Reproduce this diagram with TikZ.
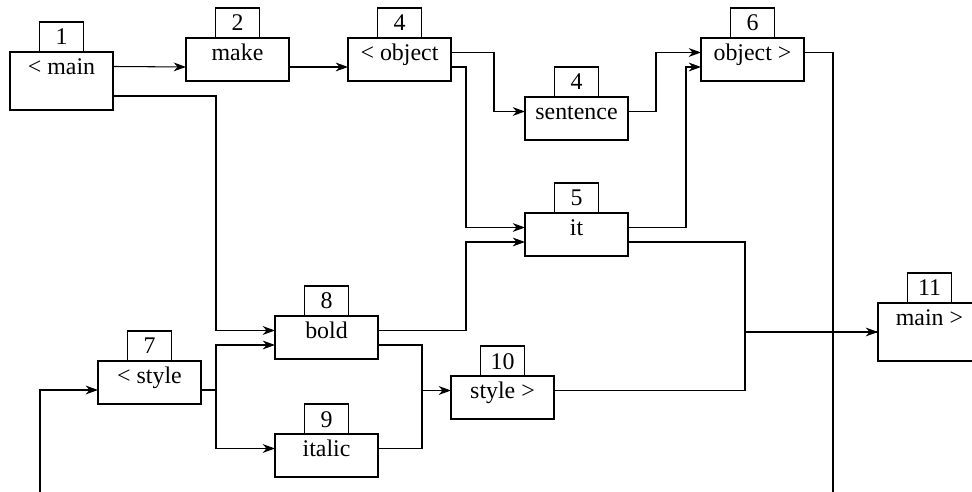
\documentclass[tikz,border=0pt]{standalone}
\usepackage{fontspec}
\setmainfont{Liberation Serif}[Ligatures=TeX]
\usepackage{tikz}
\usetikzlibrary{arrows.meta, positioning}

\begin{document}
\begin{tikzpicture}[
          x=0.02cm, y=-0.02cm,
          line width=0.6pt,
          >={Stealth[length=7pt, width=5pt, inset=2.2pt]},
          every node/.style={draw, rectangle, outer sep=0pt, inner ysep=0pt,
            font=\fontsize{13.6}{16}\selectfont},
          blk/.style={anchor=north west, minimum width=2.06cm,
            text height=0.46cm, text depth=0.40cm, line width=0.7pt},
          tallblk/.style={blk, text depth=0.70cm},
          tag/.style={minimum width=0.88cm, text height=0.46cm,
            text depth=0.14cm, line width=0.7pt},
          pa/.style={yshift=-0.29cm},
          pb/.style={yshift=-0.58cm},
          pc/.style={yshift=-0.88cm}
        ]
          \useasboundingbox (0,0) rectangle (972,492);

          \node[tallblk] (m1) at (10,52) {< main};
          \node[blk] (mk) at (186,38) {make};
          \node[blk] (ob) at (348,38) {< object};
          \node[blk] (se) at (525,97) {sentence};
          \node[blk] (oe) at (701,38) {object >};
          \node[blk] (it) at (525,213) {it};
          \node[blk] (bo) at (275,316) {bold};
          \node[blk] (st) at (98,361) {< style};
          \node[blk] (itl) at (275,434) {italic};
          \node[blk] (sx) at (451,376) {style >};
          \node[tallblk] (me) at (878,303) {main >};

          \node[tag, above=0pt of m1] (t1) {1};
          \node[tag, above=0pt of mk] (t2) {2};
          \node[tag, above=0pt of ob] (t4a) {4};
          \node[tag, above=0pt of se] (t4b) {4};
          \node[tag, above=0pt of oe] (t6) {6};
          \node[tag, above=0pt of it] (t5) {5};
          \node[tag, above=0pt of bo] (t8) {8};
          \node[tag, above=0pt of st] (t7) {7};
          \node[tag, above=0pt of itl] (t9) {9};
          \node[tag, above=0pt of sx] (t10) {10};
          \node[tag, above=0pt of me] (t11) {11};

          \coordinate (inl) at (40,492);
          \coordinate (outr) at (833,492);

          \draw[->] ([pa]m1.north east) -- ([pb]mk.north west);
          \draw[->] ([pc]m1.north east) -- ++(103,0) |- ([pa]bo.north west);
          \draw[->] ([pb]mk.north east) -- ([pb]ob.north west);
          \draw[->] ([pa]ob.north east) -- ++(43,0) |- ([pa]se.north west);
          \draw[->] ([pb]ob.north east) -- ++(15,0) |- ([pa]it.north west);
          \draw[->] ([pa]se.north east) -- ++(28,0) |- ([pa]oe.north west);
          \draw[->] ([pa]it.north east) -- ++(58,0) |- ([pb]oe.north west);
          \draw[->] ([pa]bo.north east) -- ++(88,0) |- ([pb]it.north west);
          \draw[->] ([pb]it.north east) -- ++(117,0) |- ([pb]me.north west);
          \draw ([pa]sx.north east) -- ++(191,0) |- ([pb]me.north west);
          \draw ([pa]oe.north east) -| (outr);
          \draw[->] (inl) |- ([pb]st.north west);
          \draw[->] ([pb]st.north east) -- ++(15,0) |- ([pb]bo.north west);
          \draw[->] ([pb]st.north east) -- ++(15,0) |- ([pa]itl.north west);
          \draw[->] ([pb]bo.north east) -- ++(44,0) |- ([pa]sx.north west);
          \draw ([pa]itl.north east) -- ++(44,0) |- ([pa]sx.north west);
        \end{tikzpicture}
\end{document}
